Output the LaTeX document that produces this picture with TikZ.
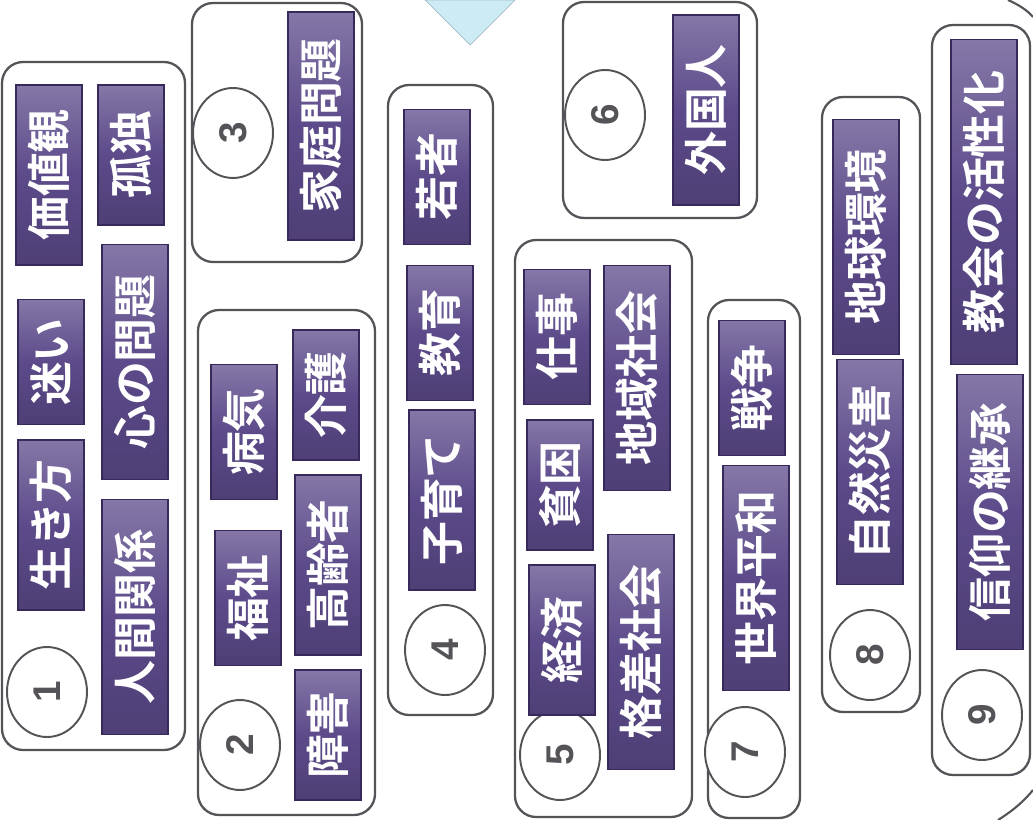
\documentclass[tikz,border=0pt]{standalone}
\usepackage{fontspec}
\newfontfamily\cjk{Noto Sans CJK JP}[BoldFont={Noto Sans CJK JP Bold}]
\newfontfamily\numfont{Liberation Sans}
\usepackage{tikz}
\usetikzlibrary{shapes.geometric}
\definecolor{tagfill}{RGB}{92,74,138}
\definecolor{tagedge}{RGB}{55,42,90}
\definecolor{grpedge}{RGB}{85,82,88}
\definecolor{pointer}{RGB}{205,235,245}

\begin{document}
\begin{tikzpicture}[
  x=0.02cm, y=-0.02cm,
  grp/.style={draw=grpedge, line width=1.3pt, rounded corners=12pt},
  tag/.style={draw=tagedge, line width=0.8pt, text=white, rotate=90,
    top color=tagfill!75!white, bottom color=tagfill!85!black, middle color=tagfill,
    font=\cjk\bfseries\fontsize{25}{25}\selectfont, inner sep=0pt,
    minimum width=#1*0.02cm, minimum height=1.32cm},
  num/.style={ellipse, draw=grpedge, line width=1.1pt, fill=white, rotate=90,
    font=\numfont\bfseries\fontsize{22}{22}\selectfont, text=grpedge,
    minimum width=1.8cm, minimum height=1.6cm, inner sep=0pt}
]
\useasboundingbox (0,0) rectangle (1033,820);

% pointer and outer rim
\fill[pointer, draw=pointer!80!black] (425,0) -- (470,45) -- (515,0) -- cycle;
\draw[grpedge, line width=1.2pt] (998,820) .. controls (1014,810) and (1025,800) .. (1033,790);
\draw[grpedge, line width=1.2pt] (1008,0) .. controls (1019,5) and (1027,10) .. (1033,17);

% Group 1
\draw[grp] (2,62) rectangle (185,750);
\node[num] (n1) at (47,692) {1};
\node[tag=170] (ikikata) at (51,525) {生き方};
\node[tag=125] (mayoi) at (51,362) {迷い};
\node[tag=180] (kachikan) at (49,175) {価値観};
\node[tag=235] (ningen) at (135,617) {人間関係};
\node[tag=235] (kokoro) at (135,362) {心の問題};
\node[tag=140] (kodoku) at (131,155) {孤独};

% Group 2
\draw[grp] (198,310) rectangle (375,815);
\node[num] (n2) at (240,745) {2};
\node[tag=135] (fukushi) at (248,598) {福祉};
\node[tag=135] (byouki) at (244,432) {病気};
\node[tag=130] (shougai) at (328,735) {障害};
\node[tag=180] (koureisha) at (328,565) {高齢者};
\node[tag=130] (kaigo) at (326,395) {介護};

% Group 3
\draw[grp] (192,3) rectangle (362,262);
\node[num] (n3) at (233,133) {3};
\node[tag=228] (katei) at (321,126) {家庭問題};

% Group 4
\draw[grp] (388,85) rectangle (493,715);
\node[num] (n4) at (445,650) {4};
\node[tag=180] (kosodate) at (442,500) {子育て};
\node[tag=135] (kyouiku) at (440,333) {教育};
\node[tag=135] (wakamono) at (437,177) {若者};

% Group 5
\draw[grp] (515,240) rectangle (692,817);
\node[num] (n5) at (560,755) {5};
\node[tag=150] (keizai) at (562,640) {経済};
\node[tag=130] (hinkon) at (560,485) {貧困};
\node[tag=135] (shigoto) at (557,337) {仕事};
\node[tag=235] (kakusa) at (641,652) {格差社会};
\node[tag=225] (chiiki) at (637,378) {地域社会};

% Group 6
\draw[grp] (563,2) rectangle (757,218);
\node[num] (n6) at (605,115) {6};
\node[tag=190] (gaikokujin) at (706,110) {外国人};

% Group 7
\draw[grp] (708,300) rectangle (800,818);
\node[num] (n7) at (745,752) {7};
\node[tag=225] (heiwa) at (756,578) {世界平和};
\node[tag=135] (sensou) at (752,388) {戦争};

% Group 8
\draw[grp] (822,97) rectangle (920,712);
\node[num] (n8) at (870,655) {8};
\node[tag=225] (saigai) at (870,472) {自然災害};
\node[tag=235] (kankyou) at (866,237) {地球環境};

% Group 9
\draw[grp] (932,25) rectangle (1030,775);
\node[num] (n9) at (982,715) {9};
\node[tag=275] (keishou) at (990,512) {信仰の継承};
\node[tag=325] (kassei) at (984,202) {教会の活性化};
\end{tikzpicture}
\end{document}
